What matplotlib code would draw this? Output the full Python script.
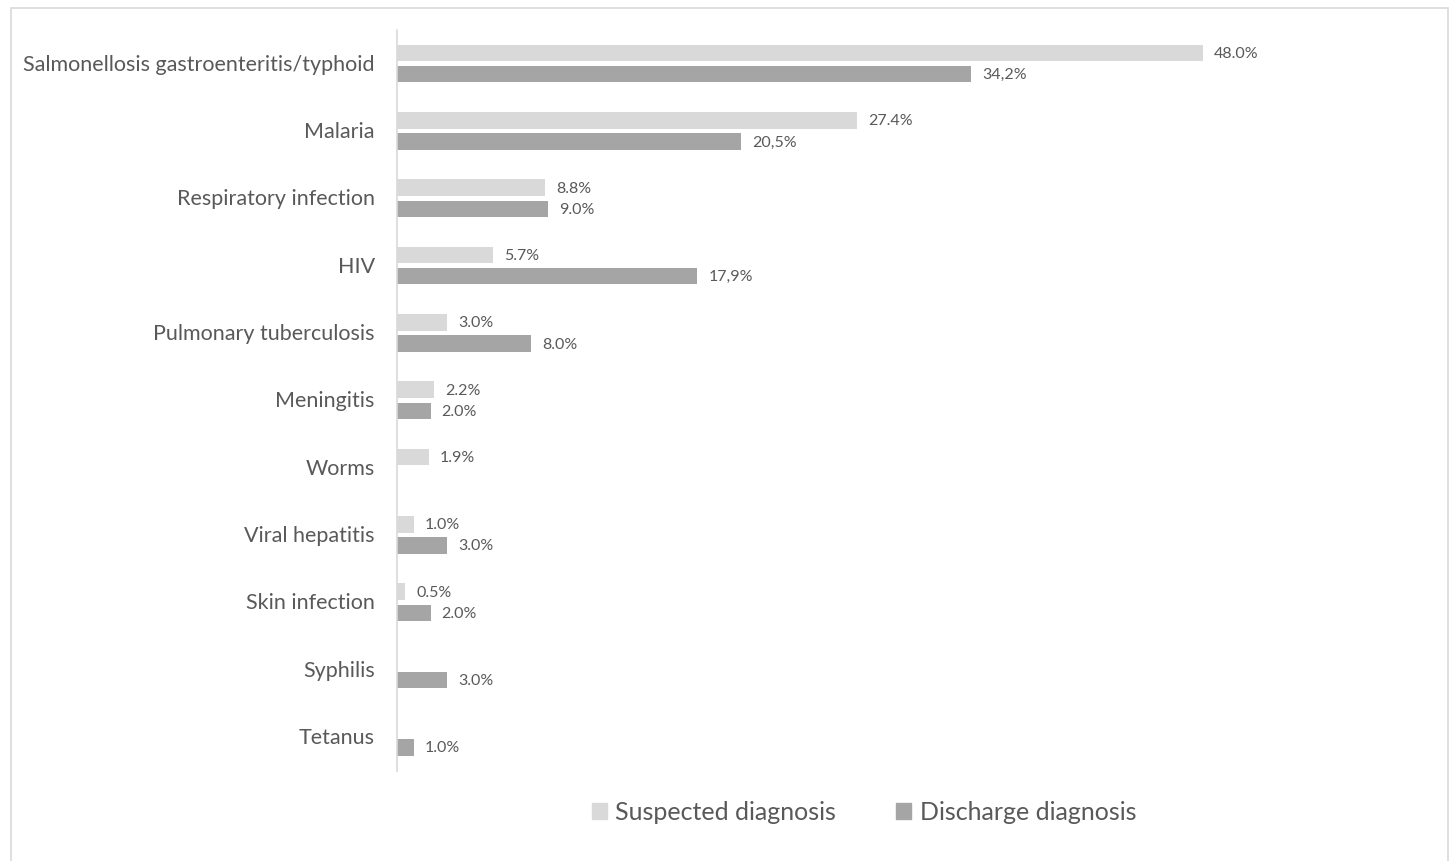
import matplotlib

matplotlib.use("Agg")
import matplotlib.pyplot as plt
from matplotlib.patches import Rectangle
import numpy as np

plt.rcParams["font.family"] = ["Lato", "DejaVu Sans"]

CATEGORIES = [
    "Salmonellosis gastroenteritis/typhoid",
    "Malaria",
    "Respiratory infection",
    "HIV",
    "Pulmonary tuberculosis",
    "Meningitis",
    "Worms",
    "Viral hepatitis",
    "Skin infection",
    "Syphilis",
    "Tetanus",
]

# None = no bar for that diagnosis
SUSPECTED = [48.0, 27.4, 8.8, 5.7, 3.0, 2.2, 1.9, 1.0, 0.5, None, None]
DISCHARGE = [34.2, 20.5, 9.0, 17.9, 8.0, 2.0, None, 3.0, 2.0, 3.0, 1.0]

SUSPECTED_LABELS = ["48.0%", "27.4%", "8.8%", "5.7%", "3.0%", "2.2%",
                    "1.9%", "1.0%", "0.5%", None, None]
DISCHARGE_LABELS = ["34,2%", "20,5%", "9.0%", "17,9%", "8.0%", "2.0%",
                    None, "3.0%", "2.0%", "3.0%", "1.0%"]

SERIES_NAMES = ["Suspected diagnosis", "Discharge diagnosis"]
COLORS = ["#d9d9d9", "#a5a5a5"]
TEXT = "#595959"

W, H = 1451, 862
fig = plt.figure(figsize=(W / 100, H / 100), dpi=100)

# outer chart frame (bottom edge runs off the canvas)
fig.patches.append(Rectangle((11 / W, -0.05), (1448 - 11) / W, 1.05 - 9 / H,
                             transform=fig.transFigure, fill=False,
                             edgecolor="#d9d9d9", linewidth=1.2))

left, right = 397 / W, 1404 / W
top, bottom = 1 - 31 / H, 1 - 771.5 / H
ax = fig.add_axes([left, bottom, right - left, top - bottom])

y = np.arange(len(CATEGORIES))
bar_h = 0.245
offset = 0.157

for vals, labels, color, sign in [(SUSPECTED, SUSPECTED_LABELS, COLORS[0], -1),
                                  (DISCHARGE, DISCHARGE_LABELS, COLORS[1], 1)]:
    for i, (v, lab) in enumerate(zip(vals, labels)):
        if v is None:
            continue
        ax.barh(y[i] + sign * offset, v, height=bar_h, color=color, zorder=2)
        ax.annotate(lab, (v, y[i] + sign * offset), textcoords="offset points",
                    xytext=(8, 0), va="center", ha="left", fontsize=11.5,
                    color=TEXT)

ax.set_xlim(0, 60)
ax.set_ylim(len(CATEGORIES) - 0.5, -0.5)
ax.set_yticks(y)
ax.set_yticklabels(CATEGORIES, fontsize=15.5, color=TEXT, va="center")
ax.tick_params(axis="y", length=0, pad=16)
ax.set_xticks([])
for side in ["top", "right", "bottom"]:
    ax.spines[side].set_visible(False)
ax.spines["left"].set_color("#d9d9d9")
ax.spines["left"].set_linewidth(1.2)

handles = [Rectangle((0, 0), 1, 1, color=c) for c in COLORS]
fig.legend(handles, SERIES_NAMES, loc="center", bbox_to_anchor=(864 / W, 1 - 813 / H),
           ncol=2, frameon=False, fontsize=18, labelcolor=TEXT,
           handlelength=0.6, handleheight=0.6, handletextpad=0.35,
           columnspacing=2.4)

fig.savefig("out.png", dpi=100)
